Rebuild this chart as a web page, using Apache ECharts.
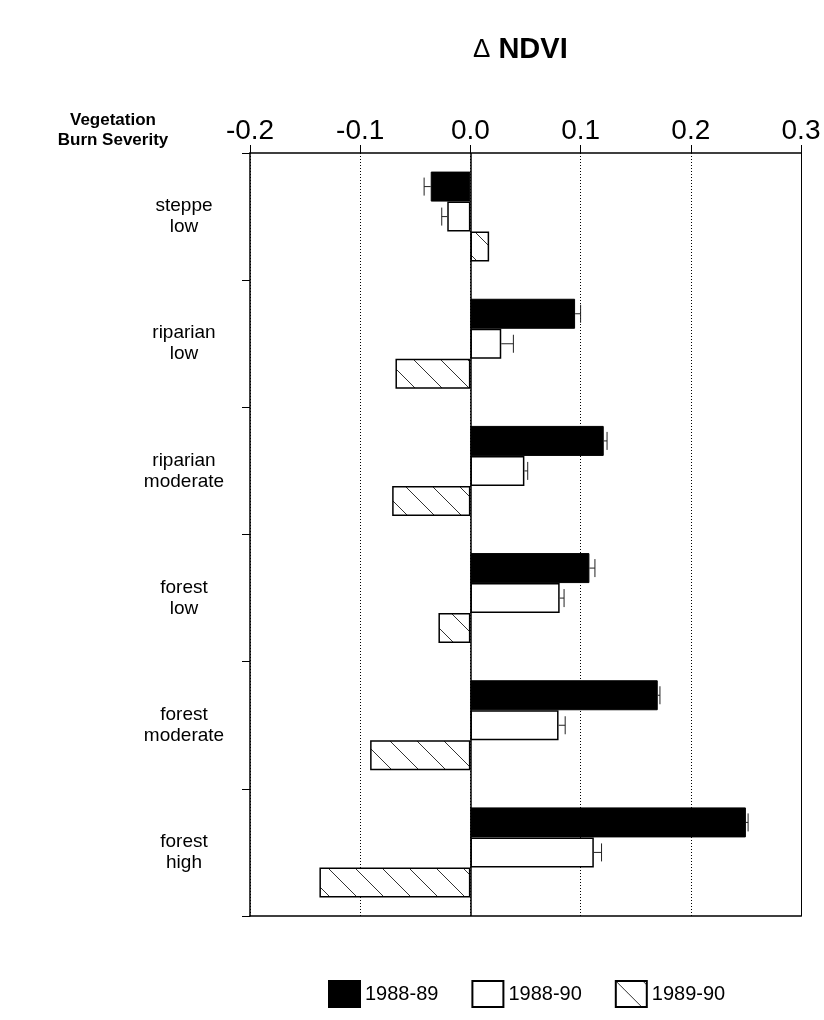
<!DOCTYPE html>
<html lang="en">
<head>
<meta charset="UTF-8">
<title>Delta NDVI by vegetation and burn severity</title>
<script src="https://cdn.jsdelivr.net/npm/echarts@6/dist/echarts.min.js"></script>
<style>
  body { margin: 0; background: #fff; }
  #main { width: 824px; height: 1020px; }
</style>
</head>
<body>
<div id="main"></div>
<script>
// data
var categories = ['steppe\nlow', 'riparian\nlow', 'riparian\nmoderate', 'forest\nlow', 'forest\nmoderate', 'forest\nhigh'];
var years = ['1988-89', '1988-90', '1989-90'];
var d8889 = [-0.036, 0.095, 0.121, 0.108, 0.170, 0.250];
var d8890 = [-0.021, 0.028, 0.049, 0.081, 0.080, 0.112];
var d8990 = [0.017, -0.068, -0.071, -0.029, -0.091, -0.137];
var err8889 = [0.006, 0.005, 0.003, 0.005, 0.002, 0.002];
var err8890 = [0.005, 0.011, 0.003, 0.004, 0.006, 0.007];
var xMin = -0.2, xMax = 0.3, xStep = 0.1;

var FONT = '"Liberation Sans", Arial, sans-serif';
var BAR_W = 30;

function hatchPattern() {
  var c = document.createElement('canvas');
  c.width = 27; c.height = 27;
  var g = c.getContext('2d');
  g.fillStyle = '#fff';
  g.fillRect(0, 0, 27, 27);
  g.strokeStyle = '#333';
  g.lineWidth = 1;
  g.beginPath();
  g.moveTo(-2, -2);
  g.lineTo(29, 29);
  g.stroke();
  return c;
}

// one-sided error bars, pointing away from zero
function errData(vals, errs, slot) {
  return vals.map(function (v, i) {
    var end = v < 0 ? v - errs[i] : v + errs[i];
    return [i, v, end, slot];
  });
}
var errRows = errData(d8889, err8889, 0).concat(errData(d8890, err8890, 1));

var chart = echarts.init(document.getElementById('main'));
var option = {
  animation: false,
  textStyle: { fontFamily: FONT, color: '#000' },
  title: {
    text: '{a|\u0394}{b| NDVI}',
    left: 468,
    top: 30,
    textStyle: {
      rich: {
        a: { fontSize: 26, fontWeight: 'normal', fontFamily: FONT, color: '#000' },
        b: { fontSize: 29, fontWeight: 'bold', fontFamily: FONT, color: '#000' }
      }
    }
  },
  graphic: [{
    type: 'text',
    x: 113,
    y: 110,
    style: {
      text: 'Vegetation\nBurn Severity',
      align: 'center',
      verticalAlign: 'top',
      font: 'bold 17px ' + FONT,
      lineHeight: 20,
      fill: '#000'
    }
  }],
  legend: {
    data: years,
    left: 323,
    top: 975,
    icon: 'rect',
    itemWidth: 31,
    itemHeight: 26,
    itemGap: 33,
    textStyle: { fontSize: 20, fontFamily: FONT, color: '#000' }
  },
  grid: { left: 250, right: 23, top: 153, bottom: 104, containLabel: false },
  xAxis: [{
    type: 'value',
    position: 'top',
    min: xMin, max: xMax, interval: xStep,
    axisLine: { show: true, onZero: false, lineStyle: { color: '#000', width: 1.5 } },
    axisTick: { show: true, length: 8, lineStyle: { color: '#000' } },
    axisLabel: {
      fontSize: 28, color: '#000', margin: 8,
      formatter: function (v) { return v.toFixed(1); }
    },
    splitLine: { show: true, lineStyle: { color: '#000', width: 1, type: [1, 2] } }
  }, {
    type: 'value',
    position: 'bottom',
    min: xMin, max: xMax, interval: xStep,
    axisLine: { show: true, onZero: false, lineStyle: { color: '#000', width: 1.5 } },
    axisTick: { show: false },
    axisLabel: { show: false },
    splitLine: { show: false }
  }],
  yAxis: [{
    type: 'category',
    data: categories,
    inverse: true,
    position: 'left',
    axisLine: { show: true, onZero: false, lineStyle: { color: '#000', width: 1.5 } },
    axisTick: { show: true, length: 8, lineStyle: { color: '#000' } },
    axisLabel: {
      fontSize: 19, color: '#000', margin: 66, align: 'center', lineHeight: 21
    }
  }, {
    type: 'category',
    data: categories,
    inverse: true,
    position: 'right',
    axisLine: { show: true, onZero: false, lineStyle: { color: '#000', width: 1 } },
    axisTick: { show: false },
    axisLabel: { show: false }
  }],
  series: [{
    name: years[0],
    type: 'bar',
    data: d8889,
    barWidth: BAR_W,
    barGap: '0%',
    itemStyle: { color: '#000', borderColor: '#000', borderWidth: 1 },
    markLine: {
      silent: true,
      symbol: 'none',
      label: { show: false },
      lineStyle: { color: '#000', width: 1.5, type: 'solid' },
      data: [{ xAxis: 0 }]
    }
  }, {
    name: years[1],
    type: 'bar',
    data: d8890,
    barWidth: BAR_W,
    barGap: '0%',
    itemStyle: { color: '#fff', borderColor: '#000', borderWidth: 1.5 }
  }, {
    name: years[2],
    type: 'bar',
    data: d8990,
    barWidth: BAR_W,
    barGap: '0%',
    itemStyle: {
      color: { image: hatchPattern(), repeat: 'repeat' },
      borderColor: '#000', borderWidth: 1.5
    }
  }, {
    type: 'custom',
    data: errRows,
    encode: { x: [1, 2], y: 0 },
    z: 5,
    silent: true,
    renderItem: function (params, api) {
      var cat = api.value(0), v = api.value(1), e = api.value(2), slot = api.value(3);
      var p0 = api.coord([v, cat]);
      var p1 = api.coord([e, cat]);
      var y = p0[1] + (slot - 1) * BAR_W;
      return {
        type: 'group',
        children: [{
          type: 'line',
          shape: { x1: p0[0], y1: y, x2: p1[0], y2: y },
          style: { stroke: '#222', lineWidth: 1 }
        }, {
          type: 'line',
          shape: { x1: p1[0], y1: y - 9, x2: p1[0], y2: y + 9 },
          style: { stroke: '#222', lineWidth: 1 }
        }]
      };
    }
  }]
};
chart.setOption(option);
</script>
</body>
</html>
